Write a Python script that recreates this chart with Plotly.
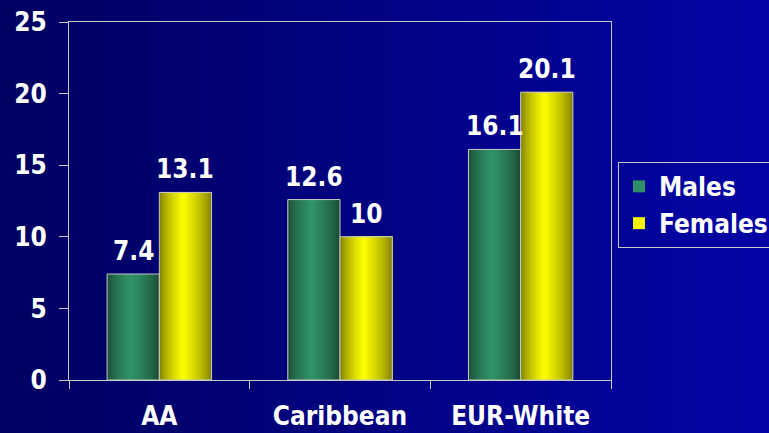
import base64
import plotly.graph_objects as go

# ---- data ----
categories = ["AA", "Caribbean", "EUR-White"]
males = [7.4, 12.6, 16.1]
females = [13.1, 10, 20.1]
series_names = ["Males", "Females"]
y_ticks = [0, 5, 10, 15, 20, 25]

# ---- layout constants ----
W, H = 769, 433
ML, MR, MT, MB = 69, 158, 22, 53
PW, PH = W - ML - MR, H - MT - MB
BAR_W = 0.289          # width of each bar (category units)
N_SLICES = 24
FONT = "DejaVu Sans Condensed, DejaVu Sans, sans-serif"
WHITE = "#ffffff"
LINE = "#c8c8c8"


def lerp(c1, c2, t):
    return tuple(int(round(a + (b - a) * t)) for a, b in zip(c1, c2))


def shade(edge_l, mid, edge_r, t, peak=0.45):
    if t <= peak:
        u = (t / peak) ** 0.7
        c = lerp(edge_l, mid, u)
    else:
        u = ((1 - t) / (1 - peak)) ** 0.7
        c = lerp(edge_r, mid, u)
    return "rgb(%d,%d,%d)" % c


palettes = {
    "Males": ((0x1b, 0x4a, 0x34), (0x31, 0x95, 0x6a), (0x19, 0x45, 0x30)),
    "Females": ((0x78, 0x78, 0x00), (0xff, 0xff, 0x00), (0x78, 0x78, 0x00)),
}

fig = go.Figure()

for s_idx, (name, vals) in enumerate(zip(series_names, [males, females])):
    base_off = -BAR_W if s_idx == 0 else 0.0
    el, mid, er = palettes[name]
    sw = BAR_W / N_SLICES
    for i in range(N_SLICES):
        t = (i + 0.5) / N_SLICES
        # each slice runs from its start to the bar's right edge; later ones cover earlier
        fig.add_trace(go.Bar(
            x=categories, y=vals, width=BAR_W - i * sw, offset=base_off + i * sw,
            marker=dict(color=shade(el, mid, er, t), line=dict(width=0)),
            name=name, legendgroup=name,
            showlegend=(i == N_SLICES // 2), legendrank=s_idx + 1,
            hoverinfo="skip",
        ))
    # outline
    fig.add_trace(go.Bar(
        x=categories, y=vals, width=BAR_W, offset=base_off,
        marker=dict(color="rgba(0,0,0,0)", line=dict(color=LINE, width=1)),
        showlegend=False, legendgroup=name, hoverinfo="skip",
    ))

# value labels
cat_px = PW / len(categories)
half = BAR_W / 2 * cat_px
for s_idx, vals in enumerate([males, females]):
    sign = -1 if s_idx == 0 else 1
    for c, v in zip(categories, vals):
        fig.add_annotation(
            x=c, y=v, xref="x", yref="y", text=str(v), showarrow=False,
            xshift=sign * half, yshift=6, yanchor="bottom",
            font=dict(family=FONT, size=26, color=WHITE, weight="bold"),
        )

# background gradient
svg = (
    '<svg xmlns="http://www.w3.org/2000/svg" width="769" height="433" '
    'preserveAspectRatio="none">'
    '<defs><linearGradient id="g" x1="0" y1="0" x2="1" y2="0">'
    '<stop offset="0" stop-color="#000060"/>'
    '<stop offset="1" stop-color="#0404a6"/>'
    '</linearGradient></defs>'
    '<rect width="769" height="433" fill="url(#g)"/></svg>'
)
uri = "data:image/svg+xml;base64," + base64.b64encode(svg.encode()).decode()
fig.add_layout_image(
    source=uri, xref="paper", yref="paper",
    x=-ML / PW, y=1 + MT / PH, sizex=W / PW, sizey=H / PH,
    xanchor="left", yanchor="top", sizing="stretch", layer="below",
)

fig.update_layout(
    width=W, height=H,
    margin=dict(l=ML, r=MR, t=MT, b=MB, autoexpand=False),
    paper_bgcolor="#020283", plot_bgcolor="rgba(0,0,0,0)",
    barmode="overlay",
    showlegend=True,
    legend=dict(
        x=(618 - ML) / PW, y=0.489, xanchor="left", yanchor="middle",
        bgcolor="rgba(0,0,0,0)", bordercolor=LINE, borderwidth=1,
        font=dict(family=FONT, size=26, color=WHITE, weight="bold"),
        itemwidth=30, traceorder="normal",
    ),
    xaxis=dict(
        type="category", categoryorder="array", categoryarray=categories,
        showline=True, linecolor=LINE, linewidth=1, mirror=True,
        ticks="outside", tickson="boundaries", ticklen=8, tickcolor=LINE,
        showgrid=False, zeroline=False, ticklabelstandoff=13,
        tickfont=dict(family=FONT, size=26, color=WHITE, weight="bold"),
        fixedrange=True,
    ),
    yaxis=dict(
        range=[0, 25], tickvals=y_ticks,
        showline=True, linecolor=LINE, linewidth=1, mirror=True,
        ticks="outside", ticklen=9, tickcolor=LINE,
        showgrid=False, zeroline=False, ticklabelstandoff=7,
        tickfont=dict(family=FONT, size=26, color=WHITE, weight="bold"),
        fixedrange=True,
    ),
)

fig.write_html(
    "out.html",
    config={"displayModeBar": False, "staticPlot": True},
    post_script="document.body.style.margin='0';document.body.style.overflow='hidden';",
)
